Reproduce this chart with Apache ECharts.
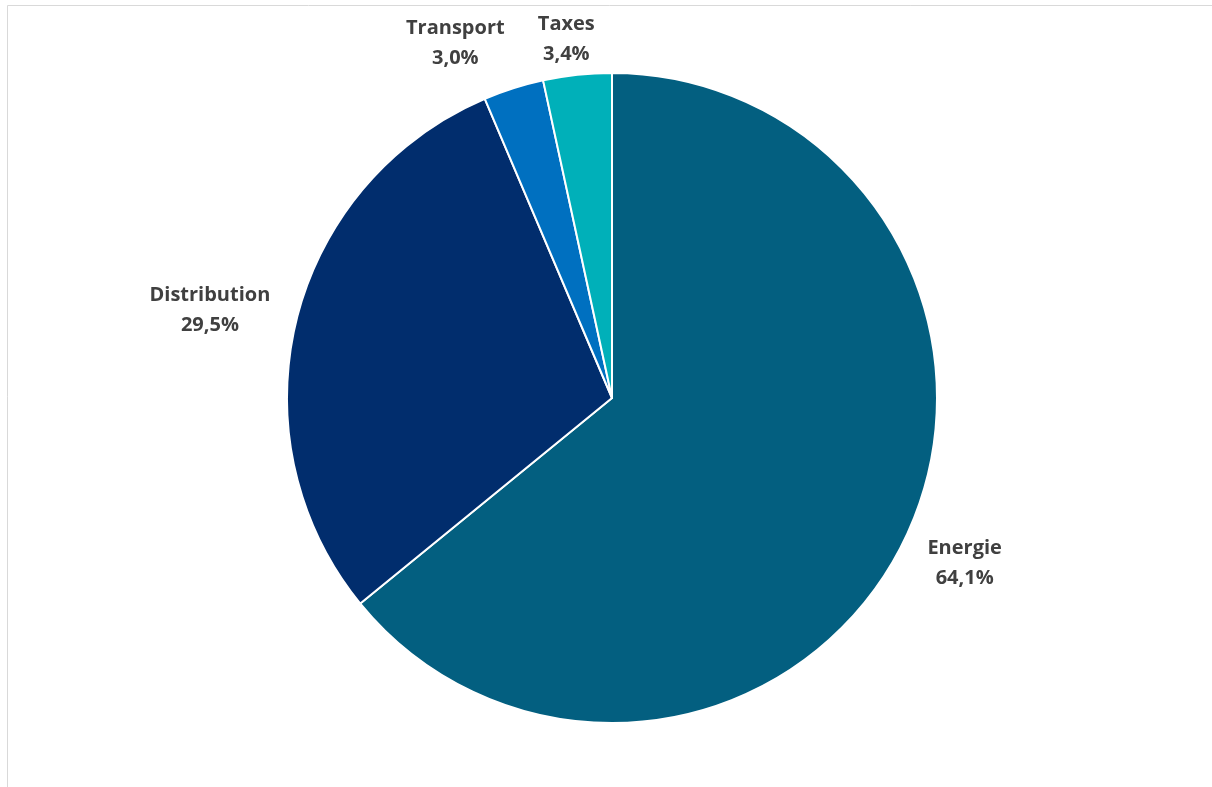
<!DOCTYPE html>
<html>
<head>
<meta charset="utf-8">
<script src="https://cdn.jsdelivr.net/npm/echarts@6/dist/echarts.min.js"></script>
<style>
  html, body { margin: 0; padding: 0; background: #ffffff; }
  #chart { width: 1212px; height: 787px; }
</style>
</head>
<body>
<div id="chart"></div>
<script>
// Price breakdown shares (percent)
const categories = ['Energie', 'Distribution', 'Transport', 'Taxes'];
const shares = [64.1, 29.5, 3.0, 3.4];
const sliceColors = ['#035F80', '#012D6D', '#0070C0', '#00B0B9'];
// distance of each label from the rim
const labelDistances = [62, 84, 60, 38];
const labelOffsets = [[-2, -1], [0, 10], [-35, 12], [-2, 2]];

const fmt = v => v.toFixed(1).replace('.', ',') + '%';

const chart = echarts.init(document.getElementById('chart'));
chart.setOption({
  animation: false,
  backgroundColor: '#ffffff',
  graphic: [{
    type: 'polyline',
    shape: { points: [[7.5, 787], [7.5, 5.5], [1212, 5.5]] },
    style: { stroke: '#d9d9d9', lineWidth: 1, fill: null },
    silent: true
  }],
  series: [{
    type: 'pie',
    center: [612, 398],
    radius: 325,
    startAngle: 90,
    clockwise: true,
    avoidLabelOverlap: false,
    itemStyle: { borderColor: '#ffffff', borderWidth: 2 },
    label: {
      show: true,
      position: 'outside',
      fontFamily: '"Open Sans", Lato, sans-serif',
      fontWeight: 'bold',
      fontSize: 20,
      lineHeight: 30,
      color: '#404040',
      formatter: p => p.name + '\n' + fmt(p.value)
    },
    labelLine: { show: false, length2: 0 },
    labelLayout: { align: 'center', verticalAlign: 'middle' },
    data: categories.map((name, i) => ({
      name: name,
      value: shares[i],
      itemStyle: { color: sliceColors[i] },
      label: { offset: labelOffsets[i] },
      labelLine: { show: false, length: labelDistances[i], length2: 0 }
    }))
  }]
});
</script>
</body>
</html>
